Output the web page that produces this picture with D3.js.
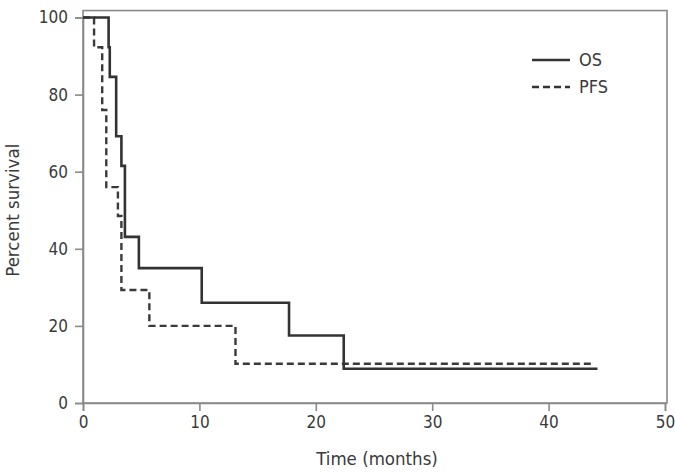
<!DOCTYPE html>
<html><head><meta charset="utf-8">
<script src="https://cdn.jsdelivr.net/npm/d3@7"></script>
<style>
body{margin:0;background:#fff;}
text{font-family:"Liberation Sans Narrow","DejaVu Sans Condensed","Roboto",sans-serif;fill:#3a3a3a;}
</style></head>
<body><svg id="c" width="675" height="472"></svg>
<script>
// Kaplan-Meier step data: time (months) at which the survival value begins
const osTimes  = [0, 2.2, 2.3, 2.85, 3.3, 3.6, 4.8, 10.2, 17.7, 22.4];
const osValues = [100, 92.3, 84.6, 69.2, 61.5, 43.1, 35.0, 26.0, 17.5, 8.9];
const osEnd = 44.2;
const pfsTimes  = [0, 0.95, 1.65, 2.0, 3.0, 3.3, 5.7, 13.1];
const pfsValues = [100, 92.3, 76.0, 56.0, 48.5, 29.3, 20.0, 10.2];
const pfsEnd = 43.9;
const xTicks = [0, 10, 20, 30, 40, 50];
const yTicks = [0, 20, 40, 60, 80, 100];
const seriesNames = ["OS", "PFS"];

const svg = d3.select("#c");
const x = d3.scaleLinear().domain([0, 50]).range([83, 665]);
const y = d3.scaleLinear().domain([0, 100]).range([403, 17.5]);
const axisColor = "#8a8a8a";
const fam = '"Liberation Sans Narrow","DejaVu Sans Condensed",sans-serif';

// frame
svg.append("rect").attr("x", x(0)).attr("y", y(101.8))
  .attr("width", x(50) + 2 - x(0)).attr("height", y(0) - y(101.8))
  .attr("fill", "none").attr("stroke", axisColor).attr("stroke-width", 1.6);

// axes
const xa = svg.append("g").attr("transform", `translate(0,${y(0)})`)
  .call(d3.axisBottom(x).tickValues(xTicks).tickSize(8).tickPadding(5).tickFormat(d3.format("d")));
const ya = svg.append("g").attr("transform", `translate(${x(0)},0)`)
  .call(d3.axisLeft(y).tickValues(yTicks).tickSize(8).tickPadding(7).tickFormat(d3.format("d")));
[xa, ya].forEach(a => {
  a.select(".domain").attr("stroke", axisColor).attr("stroke-width", 1.6);
  a.selectAll(".tick line").attr("stroke", axisColor).attr("stroke-width", 1.6);
  a.selectAll(".tick text").style("font-size", "17px").attr("fill", "#3a3a3a")
   .style("font-family", fam);
});

function stepData(times, values, end) {
  const pts = times.map((t, i) => [t, values[i]]);
  pts.push([end, values[values.length - 1]]);
  return pts;
}
const line = d3.line().x(d => x(d[0])).y(d => y(d[1])).curve(d3.curveStepAfter);

svg.append("path").datum(stepData(pfsTimes, pfsValues, pfsEnd))
  .attr("d", line).attr("fill", "none").attr("stroke", "#3a3a3a")
  .attr("stroke-width", 2.4).attr("stroke-dasharray", "7,4");
svg.append("path").datum(stepData(osTimes, osValues, osEnd))
  .attr("d", line).attr("fill", "none").attr("stroke", "#333")
  .attr("stroke-width", 2.6);

// legend
const lg = svg.append("g");
const legY = [60, 87];
seriesNames.forEach((n, i) => {
  lg.append("line").attr("x1", 532).attr("x2", 570).attr("y1", legY[i]).attr("y2", legY[i])
    .attr("stroke", "#333").attr("stroke-width", 2.4)
    .attr("stroke-dasharray", i === 1 ? "7,4" : null);
  lg.append("text").attr("x", 579).attr("y", legY[i]).attr("dy", "0.35em")
    .style("font-size", "18px").text(n);
});

// titles
svg.append("text").attr("x", (x(0) + x(50)) / 2 + 3).attr("y", 465)
  .attr("text-anchor", "middle").style("font-size", "18.5px").text("Time (months)");
svg.append("text").attr("transform", `translate(19,${y(50)}) rotate(-90)`)
  .attr("text-anchor", "middle").style("font-size", "18.5px").text("Percent survival");
</script></body></html>
